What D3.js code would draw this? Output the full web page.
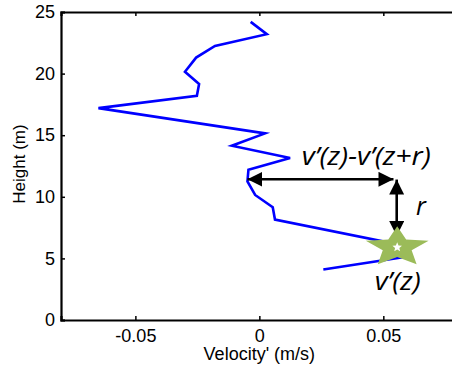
<!DOCTYPE html>
<html><head><meta charset="utf-8">
<script src="https://cdn.jsdelivr.net/npm/d3@7"></script>
<style>body{margin:0;background:#fff}svg{display:block}</style>
</head><body>
<script>
// Data
const heights    = [24.2, 23.2, 22.25, 21.3, 20.15, 19.15, 18.2, 17.2, 15.15, 14.15, 13.15, 12.2, 11.25, 10.15, 9.15, 8.15, 6.15, 5.1, 4.1];
const velocities = [-0.0035, 0.0030, -0.0179, -0.0255, -0.0300, -0.0243, -0.0252, -0.0649, 0.0023, -0.0111, 0.0124, -0.0044, -0.0048, -0.0017, 0.0054, 0.0063, 0.0555, 0.0579, 0.0258];
const xTicks = [-0.05, 0, 0.05];
const xTickLabels = ["-0.05", "0", "0.05"];
const yTicks = [0, 5, 10, 15, 20, 25];
const yTickLabels = ["0", "5", "10", "15", "20", "25"];
const xDomain = [-0.08, 0.08];
const yDomain = [0, 25];
// annotation anchors (data units)
const starPoint = [0.0556, 5.9];
const horizArrow = [[-0.0048, 11.42], [0.0541, 11.42]];
const vertArrow = [[0.0554, 11.4], [0.0554, 6.82]];
const diffLabel = {text: "v\u2019(z)-v\u2019(z+r)", x: 0.0171, y: 12.58, len: 129};
const rLabel = {text: "r", x: 0.0632, y: 8.52, len: 0};
const vLabel = {text: "v\u2019(z)", x: 0.0465, y: 2.44, len: 46};

const W = 452, H = 371;
const svg = d3.select("body").append("svg").attr("width", W).attr("height", H);
const x = d3.scaleLinear().domain(xDomain).range([61, 457.7]);
const y = d3.scaleLinear().domain(yDomain).range([320, 12]);

const font = "Liberation Sans, Arial, sans-serif";

// Axes
const gx = svg.append("g").attr("transform", `translate(0,${y(0)})`)
  .call(d3.axisBottom(x).tickValues(xTicks).tickFormat((d, i) => xTickLabels[i]).tickSize(-4).tickPadding(9));
const gxTop = svg.append("g").attr("transform", `translate(0,${y(25)})`)
  .call(d3.axisTop(x).tickValues(xTicks).tickFormat("").tickSize(-4));
const gy = svg.append("g").attr("transform", `translate(${x(xDomain[0])},0)`)
  .call(d3.axisLeft(y).tickValues(yTicks).tickFormat((d, i) => yTickLabels[i]).tickSize(-4).tickPadding(6));
[gx, gxTop, gy].forEach(g => {
  g.select(".domain").attr("stroke", "#000").attr("stroke-width", 2.2);
  g.selectAll(".tick line").attr("stroke", "#000").attr("stroke-width", 1.5);
  g.selectAll("text").attr("font-family", font).attr("font-size", 18).attr("fill", "#000");
});

// Axis titles
svg.append("text").attr("x", x(0)).attr("y", 360)
  .attr("text-anchor", "middle").attr("font-family", font).attr("font-size", 18)
  .text("Velocity' (m/s)");
svg.append("text").attr("transform", `translate(25,164) rotate(-90)`)
  .attr("text-anchor", "middle").attr("font-family", font).attr("font-size", 17)
  .text("Height (m)");

// Profile line
const pts = heights.map((h, i) => [velocities[i], h]);
svg.append("path").datum(pts)
  .attr("d", d3.line().x(d => x(d[0])).y(d => y(d[1])))
  .attr("fill", "none").attr("stroke", "#0000ff").attr("stroke-width", 2.6)
  .attr("stroke-linejoin", "miter");

// Arrow markers
const defs = svg.append("defs");
defs.append("marker").attr("id", "ah").attr("markerUnits", "userSpaceOnUse")
  .attr("viewBox", "0 0 15 15").attr("refX", 15).attr("refY", 7.5)
  .attr("markerWidth", 15).attr("markerHeight", 15).attr("orient", "auto-start-reverse")
  .append("path").attr("d", "M0,0 L15,7.5 L0,15 Z").attr("fill", "#000");

function arrow(a) {
  svg.append("line")
    .attr("x1", x(a[0][0])).attr("y1", y(a[0][1]))
    .attr("x2", x(a[1][0])).attr("y2", y(a[1][1]))
    .attr("stroke", "#000").attr("stroke-width", 2.6)
    .attr("marker-start", "url(#ah)").attr("marker-end", "url(#ah)");
}
arrow(horizArrow);
arrow(vertArrow);

// Star
function starPath(cx, cy, rx, ry, k) {
  const p = [];
  for (let i = 0; i < 10; i++) {
    const a = -Math.PI / 2 + i * Math.PI / 5;
    const f = i % 2 ? k : 1;
    p.push([cx + rx * f * Math.cos(a), cy + ry * f * Math.sin(a)]);
  }
  return "M" + p.map(q => q.join(",")).join("L") + "Z";
}
const sx = x(starPoint[0]), sy = y(starPoint[1]);
svg.append("path").attr("d", starPath(sx, sy, 33, 21, 0.46)).attr("fill", "#9bbb59");
svg.append("path").attr("d", starPath(sx, sy, 5, 5, 0.45)).attr("fill", "#fff");

// Annotation texts
const aFont = "Open Sans, Lato, sans-serif";
[diffLabel, rLabel, vLabel].forEach(l => {
  const t = svg.append("text").attr("x", x(l.x)).attr("y", y(l.y))
    .attr("font-family", aFont).attr("font-style", "italic").attr("font-size", 25)
    .attr("fill", "#000").text(l.text);
  if (l.len) t.attr("textLength", l.len).attr("lengthAdjust", "spacingAndGlyphs");
});
</script>
</body></html>
